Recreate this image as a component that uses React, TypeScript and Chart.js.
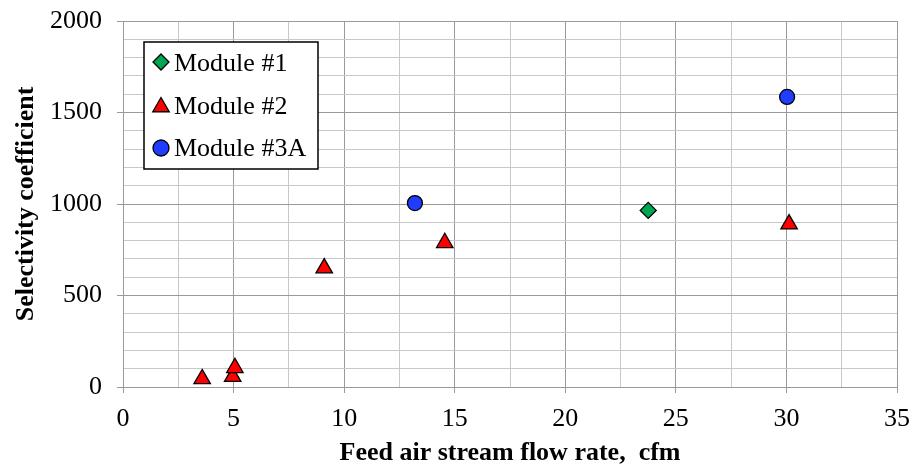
import React, { useEffect, useRef } from "react";
import { Chart, registerables } from "chart.js";

Chart.register(...registerables);

const seriesNames = ["Module #1", "Module #2", "Module #3A"];
const module1X = [23.75];
const module1Y = [965];
const module2X = [3.58, 4.96, 5.06, 9.1, 14.55, 30.12];
const module2Y = [44, 57, 105, 650, 788, 890];
const module3X = [13.2, 30.03];
const module3Y = [1005, 1585];
const xTickStep = 2.5;
const xLabelStep = 5;
const yTickStep = 100;
const yLabelStep = 500;

const FONT = '"Liberation Serif", "Times New Roman", serif';
const MAJOR = "#9a9a9a";
const MINOR = "#c8c8c8";
const colors = ["#00a651", "#ff0000", "#1f3cff"];
const styles = ["rectRot", "triangle", "circle"];
const radii = [8, 9.5, 7.5];

function toPoints(xs: number[], ys: number[]) {
  return xs.map((x, i) => ({ x, y: ys[i] }));
}

function drawMarker(ctx: CanvasRenderingContext2D, style: string, x: number, y: number, r: number) {
  ctx.beginPath();
  if (style === "circle") {
    ctx.arc(x, y, r, 0, Math.PI * 2);
  } else if (style === "triangle") {
    for (let k = 0; k < 3; k++) {
      const a = -Math.PI / 2 + (k * 2 * Math.PI) / 3;
      const px = x + Math.cos(a) * r;
      const py = y + Math.sin(a) * r;
      if (k === 0) ctx.moveTo(px, py);
      else ctx.lineTo(px, py);
    }
  } else {
    ctx.moveTo(x, y - r);
    ctx.lineTo(x + r, y);
    ctx.lineTo(x, y + r);
    ctx.lineTo(x - r, y);
  }
  ctx.closePath();
  ctx.fill();
  ctx.stroke();
}

const legendPlugin = {
  id: "insideLegend",
  afterDraw(chart: any) {
    const { ctx, chartArea } = chart;
    const left = chartArea.left + 21;
    const top = chartArea.top + 21;
    const w = 174;
    const h = 127;
    ctx.save();
    ctx.fillStyle = "#ffffff";
    ctx.fillRect(left, top, w, h);
    ctx.strokeStyle = "#000000";
    ctx.lineWidth = 1.5;
    ctx.strokeRect(left, top, w, h);
    const markerY = [20, 63, 106];
    const baseY = [29, 72, 114];
    ctx.font = `26px ${FONT}`;
    ctx.textBaseline = "alphabetic";
    ctx.textAlign = "left";
    for (let i = 0; i < seriesNames.length; i++) {
      ctx.fillStyle = colors[i];
      ctx.strokeStyle = "#000000";
      ctx.lineWidth = 1.3;
      const r = styles[i] === "triangle" ? 9.5 : 8;
      const cy = styles[i] === "triangle" ? top + markerY[i] + 2 : top + markerY[i];
      drawMarker(ctx, styles[i], left + 17, cy, r);
      ctx.fillStyle = "#000000";
      ctx.fillText(seriesNames[i], left + 30, top + baseY[i]);
    }
    ctx.restore();
  },
};

export default function App() {
  const ref = useRef<HTMLCanvasElement | null>(null);
  useEffect(() => {
    document.body.style.margin = "0";
    const canvas = ref.current;
    if (!canvas) return;
    const xs = [module1X, module2X, module3X];
    const ys = [module1Y, module2Y, module3Y];
    const chart = new Chart(canvas, {
      type: "scatter",
      data: {
        datasets: seriesNames.map((name, i) => ({
          label: name,
          data: toPoints(xs[i], ys[i]),
          pointStyle: styles[i] as any,
          pointRadius: radii[i],
          pointHoverRadius: radii[i],
          backgroundColor: colors[i],
          borderColor: "#000000",
          pointBorderWidth: 1.3,
          borderWidth: 1.3,
        })),
      },
      options: {
        responsive: false,
        animation: false,
        layout: { padding: { left: 0, top: 21, right: 17, bottom: 0 } },
        plugins: {
          legend: { display: false },
          tooltip: { enabled: false },
        },
        scales: {
          x: {
            type: "linear",
            min: 0,
            max: 35,
            afterFit: (s: any) => {
              s.height = 78;
              s.paddingLeft = 0;
              s.paddingRight = 0;
            },
            ticks: {
              stepSize: xTickStep,
              autoSkip: false,
              maxRotation: 0,
              padding: 11,
              color: "#000000",
              font: { family: FONT, size: 26 },
              callback: (v: any) => (Number(v) % xLabelStep === 0 ? String(v) : ""),
            },
            grid: {
              color: (c: any) => (c.tick && c.tick.value % xLabelStep === 0 ? MAJOR : MINOR),
              tickColor: (c: any) => (c.tick && c.tick.value % xLabelStep === 0 ? MAJOR : "rgba(0,0,0,0)"),
              tickLength: 6,
              lineWidth: 1,
            },
            border: { color: MAJOR, width: 1 },
            title: {
              display: true,
              text: "Feed air stream flow rate,  cfm",
              color: "#000000",
              font: { family: FONT, size: 26, weight: "bold" },
              padding: { top: 0, bottom: -4 },
            },
          },
          y: {
            type: "linear",
            min: 0,
            max: 2000,
            afterFit: (s: any) => {
              s.width = 123;
              s.paddingTop = 0;
              s.paddingBottom = 0;
            },
            ticks: {
              stepSize: yTickStep,
              autoSkip: false,
              padding: 15,
              color: "#000000",
              font: { family: FONT, size: 26 },
              callback: (v: any) => (Number(v) % yLabelStep === 0 ? String(v) : ""),
            },
            grid: {
              color: (c: any) => (c.tick && c.tick.value % yLabelStep === 0 ? MAJOR : MINOR),
              tickColor: (c: any) => (c.tick && c.tick.value % yLabelStep === 0 ? MAJOR : "rgba(0,0,0,0)"),
              tickLength: 6,
              lineWidth: 1,
            },
            border: { color: MAJOR, width: 1 },
            title: {
              display: true,
              text: "Selectivity coefficient",
              color: "#000000",
              font: { family: FONT, size: 26, weight: "bold" },
              padding: { top: 11, bottom: 0 },
            },
          },
        },
      },
      plugins: [legendPlugin],
    });
    return () => chart.destroy();
  }, []);
  return (
    <div style={{ width: 914, height: 465 }}>
      <canvas ref={ref} width={914} height={465} />
    </div>
  );
}
